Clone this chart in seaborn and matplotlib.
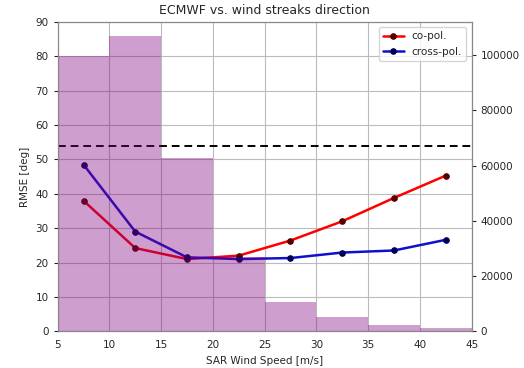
import seaborn as sns
import matplotlib.pyplot as plt
import pandas as pd

sns.set_style("whitegrid")
plt.rcParams['font.family'] = ['DejaVu Sans']
plt.rcParams['font.size'] = 7.5

bin_edges = [5, 10, 15, 20, 25, 30, 35, 40, 45]
bin_centers = [7.5, 12.5, 17.5, 22.5, 27.5, 32.5, 37.5, 42.5]
counts = [99600, 107000, 62900, 26800, 10600, 5100, 2200, 1200]
rmse_co = [38.0, 24.2, 21.0, 22.0, 26.4, 32.0, 38.8, 45.3]
rmse_cross = [48.5, 29.0, 21.5, 21.0, 21.3, 22.9, 23.5, 26.6]
rmse_ref = 54

fig, ax = plt.subplots(figsize=(5.24, 3.68), dpi=100)

# RMSE curves on the left axis
sns.lineplot(x=bin_centers, y=rmse_co, ax=ax, color='red', marker='o',
             linewidth=1.8, markersize=4, markerfacecolor='#550000',
             markeredgecolor='#550000', label='co-pol.')
sns.lineplot(x=bin_centers, y=rmse_cross, ax=ax, color='#1010cc', marker='o',
             linewidth=1.8, markersize=4, markerfacecolor='#000055',
             markeredgecolor='#000055', label='cross-pol.')
ax.axhline(rmse_ref, color='black', linestyle=(0, (4, 2.5)), linewidth=1.4)

ax.set_xlim(5, 45)
ax.set_ylim(0, 90)
ax.set_xticks(range(5, 50, 5))
ax.set_yticks(range(0, 100, 10))
ax.set_xlabel('SAR Wind Speed [m/s]')
ax.set_ylabel('RMSE [deg]')
ax.set_title('ECMWF vs. wind streaks direction', fontsize=9)
ax.legend(loc='upper right')
ax.grid(True, color='#bbbbbb')

# sample counts histogram on the twin axis, drawn over with transparency
ax2 = ax.twinx()
sns.histplot(x=bin_centers, weights=counts, bins=bin_edges, ax=ax2,
             color='purple', alpha=0.38, edgecolor='none', linewidth=0)
ax2.set_ylim(0, 112000)
ax2.set_ylabel('')
ax2.grid(False)
ax2.set_yticks([0, 20000, 40000, 60000, 80000, 100000])

ax.tick_params(length=3)
ax2.tick_params(length=3)
for a in (ax, ax2):
    for s in a.spines.values():
        s.set_color('#888888')

plt.subplots_adjust(left=0.11, right=0.9, top=0.94, bottom=0.1)
plt.savefig('out.png', dpi=100)
